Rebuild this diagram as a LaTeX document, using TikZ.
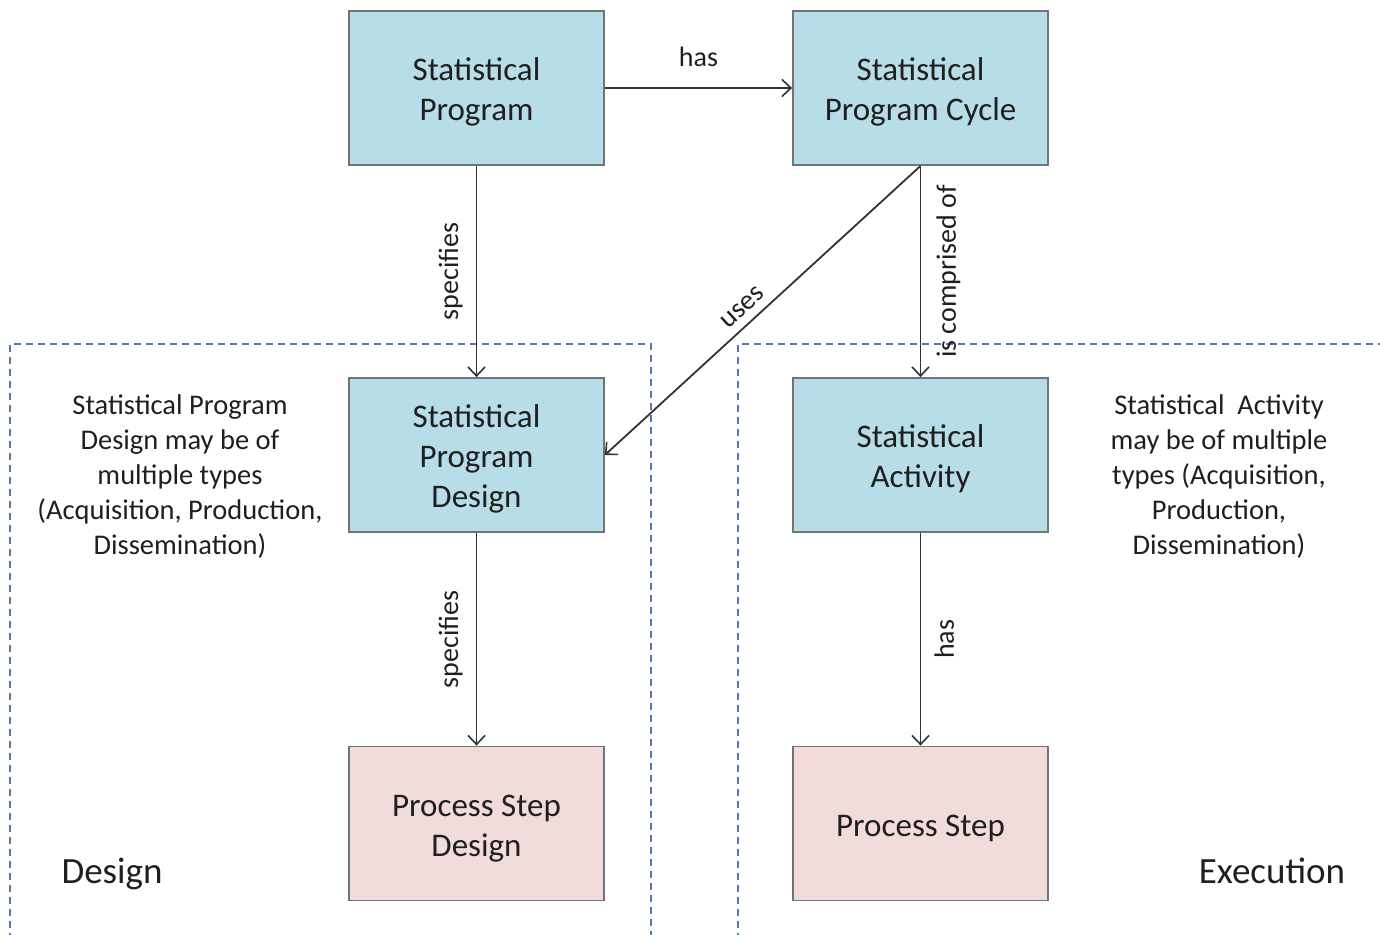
\documentclass[tikz,border=0pt]{standalone}
\usepackage{fontspec}
\setmainfont{Carlito}
\usetikzlibrary{arrows.meta}
\definecolor{boxblue}{HTML}{B7DDE8}
\definecolor{boxpink}{HTML}{F2DCDB}
\definecolor{boxedge}{HTML}{6F7475}
\definecolor{dashblue}{RGB}{90,120,165}
\definecolor{txt}{HTML}{1F1F1F}
\newcommand\topstrut{\rule{0pt}{31pt}}
\tikzset{
  entity/.style={draw=boxedge, line width=1.8pt, minimum width=255pt, minimum height=154pt,
    inner sep=0pt, align=center, text=txt, font=\fontsize{33}{40}\selectfont},
  bluebox/.style={entity, fill=boxblue},
  pinkbox/.style={entity, fill=boxpink},
  conn/.style={draw=black!80, line width=1.8pt, -{Straight Barb[length=9pt,width=17pt,line width=1.6pt]}},
  lbl/.style={text=txt, font=\fontsize{28}{34}\selectfont, inner sep=3pt},
  note/.style={text=txt, align=center, font=\fontsize{28.5}{35}\selectfont},
  region/.style={draw=dashblue, line width=1.5pt, dash pattern=on 7pt off 5pt},
  bigtitle/.style={text=txt, font=\fontsize{37}{44}\selectfont, anchor=base}
}
\begin{document}
\begin{tikzpicture}[x=1pt, y=-1pt]
\useasboundingbox (0,0) rectangle (1380,934);
% regions
\draw[region] (10,940) -- (10,344) -- (651,344) -- (651,940);
\draw[region] (738,940) -- (738,344) -- (1390,344);
% boxes
\node[bluebox] (sp)  at (476.5,88)  {\topstrut Statistical\\Program};
\node[bluebox] (spc) at (920.5,88)  {\topstrut Statistical\\Program Cycle};
\node[bluebox] (spd) at (476.5,455) {\topstrut Statistical\\Program\\Design};
\node[bluebox] (sa)  at (920.5,455) {\topstrut Statistical\\Activity};
\node[pinkbox] (psd) at (476.5,823.5) {\topstrut Process Step\\Design};
\node[pinkbox] (ps)  at (920.5,823.5) {\topstrut Process Step};
% connectors
\draw[conn] (sp.east) -- node[lbl, anchor=south, inner sep=20pt] {has} (spc.west);
\draw[conn] (sp.south) -- node[lbl, rotate=90, anchor=south, inner sep=13pt] {specifies} (spd.north);
\draw[conn] (spc.south) -- node[lbl, pos=0.53, sloped, anchor=south, inner sep=8pt] {uses} (spd.east);
\draw[conn] (spc.south) -- node[lbl, rotate=90, anchor=north, inner sep=15pt] {is comprised of} (sa.north);
\draw[conn] (spd.south) -- node[lbl, rotate=90, anchor=south, inner sep=13pt] {specifies} (psd.north);
\draw[conn] (sa.south) -- node[lbl, rotate=90, anchor=north, inner sep=13pt] {has} (ps.north);
% notes
\node[note] (n1) at (180,477) {Statistical Program\\Design may be of\\multiple types\\(Acquisition, Production,\\Dissemination)};
\node[note] (n2) at (1219,477) {Statistical~ Activity\\may be of multiple\\types (Acquisition,\\Production,\\Dissemination)};
\node[bigtitle] (d) at (112,883) {Design};
\node[bigtitle] (e) at (1272,883) {Execution};
\end{tikzpicture}
\end{document}
